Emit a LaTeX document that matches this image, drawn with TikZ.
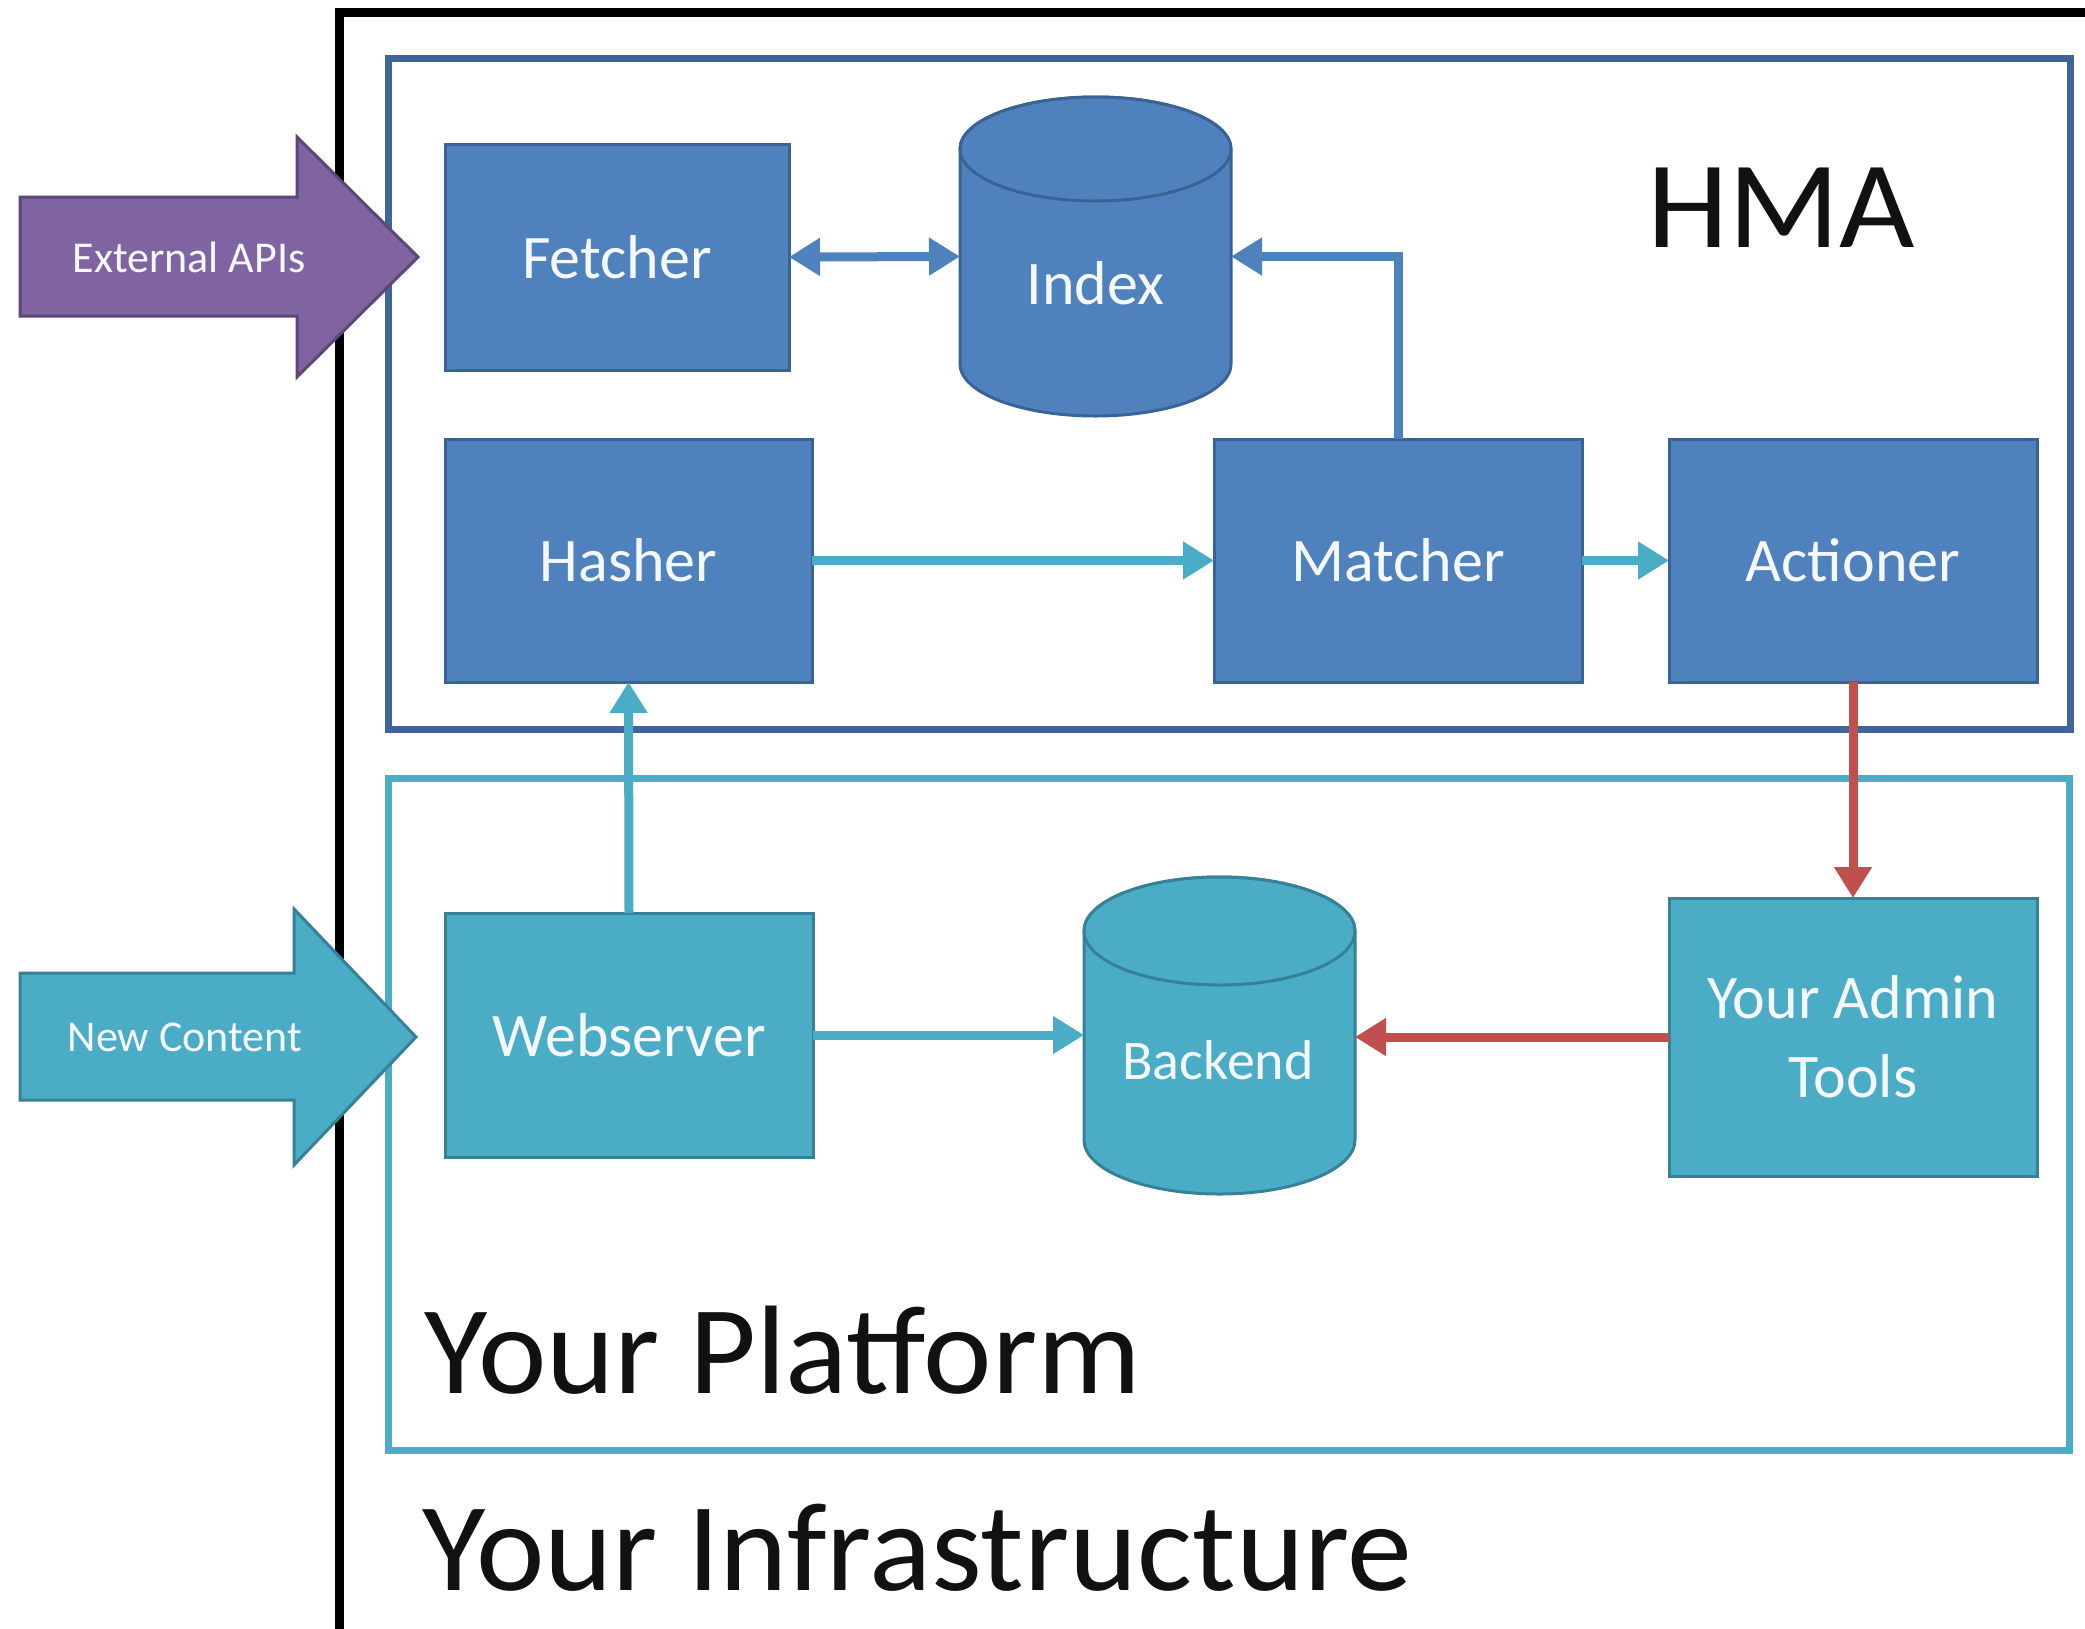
\documentclass[tikz,border=0pt]{standalone}
\usepackage{fontspec}
\setmainfont{Carlito}
\usetikzlibrary{arrows.meta,calc}
\definecolor{hmablue}{HTML}{4F81BD}
\definecolor{hmablueD}{HTML}{3A6395}
\definecolor{frameblue}{HTML}{3F6598}
\definecolor{platteal}{HTML}{4BACC6}
\definecolor{plattealD}{HTML}{368197}
\definecolor{arrred}{HTML}{C0504D}
\definecolor{purp}{HTML}{8064A2}
\definecolor{purpD}{HTML}{5C4776}
\definecolor{boxtext}{HTML}{F4F8FC}
\definecolor{inktext}{HTML}{111111}
\tikzset{
  boxbase/.style={line width=1.5pt, text=boxtext, inner sep=0pt, outer sep=0pt, align=center,
    font=\fontsize{31}{39.5}\selectfont},
  bluebox/.style={boxbase, draw=hmablueD, fill=hmablue},
  tealbox/.style={boxbase, draw=plattealD, fill=platteal},
  cylholder/.style={inner sep=0pt, outer sep=0pt, minimum width=135.5pt},
  bluecyl/.style={line width=1.5pt, draw=hmablueD, fill=hmablue},
  tealcyl/.style={line width=1.5pt, draw=plattealD, fill=platteal},
  cyltext/.style={text=boxtext, inner sep=0pt},
  conn/.style={line width=4.5pt},
  blockarrowtext/.style={text=boxtext, inner sep=0pt, font=\fontsize{22}{26}\selectfont},
  bigtitle/.style={text=inktext, inner sep=0pt, font=\fontsize{63}{70}\selectfont},
  >={Triangle[length=15.5pt,width=18pt]}
}
\begin{document}
\begin{tikzpicture}[x=0.5pt,y=-0.5pt]
\clip (0,0) rectangle (2085,1629);
\fill[white] (0,0) rectangle (2085,1629);

% outer infrastructure frame
\draw[line width=4.5pt, black] (2110,12) -- (339,12) -- (339,1660);
% HMA frame
\draw[frameblue, line width=3.5pt] (388,58) rectangle (2070,729);
% platform frame
\draw[platteal, line width=3.5pt] (388,778) rectangle (2069,1450);

% block arrows
\filldraw[fill=purp, draw=purpD, line width=1.5pt]
  (20,197) -- (297,197) -- (297,137) -- (418,257) -- (297,377) -- (297,316) -- (20,316) -- cycle;
\node[blockarrowtext] (ext) at (189,257) {External APIs};
\filldraw[fill=platteal, draw=plattealD, line width=1.5pt]
  (20,973) -- (294,973) -- (294,909) -- (416,1037) -- (294,1165) -- (294,1100) -- (20,1100) -- cycle;
\node[blockarrowtext] (new) at (185,1037) {New Content};

% titles
\node[bigtitle, anchor=base west, font=\fontsize{62}{70}\selectfont] (hma) at (1647,247) {\scalebox{1.05}[1]{HMA}};
\node[bigtitle, anchor=base west] (platform) at (424,1393) {\scalebox{1.03}[1]{Your Platform}};
\node[bigtitle, anchor=base west] (infra) at (422,1590) {\scalebox{1.03}[1]{Your Infrastructure}};

% boxes
\node[bluebox, minimum width=172pt, minimum height=113pt] (fetcher) at (617,257) {Fetcher};
\node[bluebox, minimum width=183.5pt, minimum height=121.5pt] (hasher) at (628.5,560.5) {Hasher};
\node[bluebox, minimum width=184pt, minimum height=121.5pt] (matcher) at (1398,560.5) {Matcher};
\node[bluebox, minimum width=184pt, minimum height=121.5pt] (actioner) at (1853,560.5) {Actioner};
\node[tealbox, minimum width=184pt, minimum height=122pt] (web) at (629,1035) {Webserver};
\node[tealbox, minimum width=184pt, minimum height=139pt] (admin) at (1853,1037) {Your Admin\\Tools};

% Index cylinder
\node[cylholder, minimum height=159.5pt] (index) at (1095.5,256.5) {};
\filldraw[bluecyl] ($(index.north west)+(0,52)$) -- ($(index.south west)+(0,-52)$)
  arc[start angle=180,end angle=360,x radius=67.75pt,y radius=26pt]
  -- ($(index.north east)+(0,52)$)
  arc[start angle=0,end angle=180,x radius=67.75pt,y radius=26pt] -- cycle;
\draw[bluecyl] ($(index.north)+(0,52)$) ellipse[x radius=67.75pt, y radius=26pt];
\node[cyltext, font=\fontsize{31}{36}\selectfont] (indexlabel) at (1095.5,283) {Index};

% Backend cylinder
\node[cylholder, minimum height=158.5pt] (backend) at (1219.5,1035.5) {};
\filldraw[tealcyl] ($(backend.north west)+(0,54)$) -- ($(backend.south west)+(0,-54)$)
  arc[start angle=180,end angle=360,x radius=67.75pt,y radius=27pt]
  -- ($(backend.north east)+(0,54)$)
  arc[start angle=0,end angle=180,x radius=67.75pt,y radius=27pt] -- cycle;
\draw[tealcyl] ($(backend.north)+(0,54)$) ellipse[x radius=67.75pt, y radius=27pt];
\node[cyltext, font=\fontsize{28}{34}\selectfont] (backendlabel) at (1218,1060) {Backend};

% connectors
\draw[conn, hmablue, <->] (fetcher.east) -- (index.west);
\draw[conn, hmablue, ->] (matcher.north) |- (index.east);
\draw[conn, platteal, ->] (hasher.east) -- (matcher.west);
\draw[conn, platteal, ->] (matcher.east) -- (actioner.west);
\draw[conn, platteal, ->] (web.north) -- (hasher.south);
\draw[conn, platteal, ->] (web.east) -- (web.east -| backend.west);
\draw[conn, arrred, ->] (actioner.south) -- (admin.north);
\draw[conn, arrred, ->] (admin.west) -- (admin.west -| backend.east);
\end{tikzpicture}
\end{document}
